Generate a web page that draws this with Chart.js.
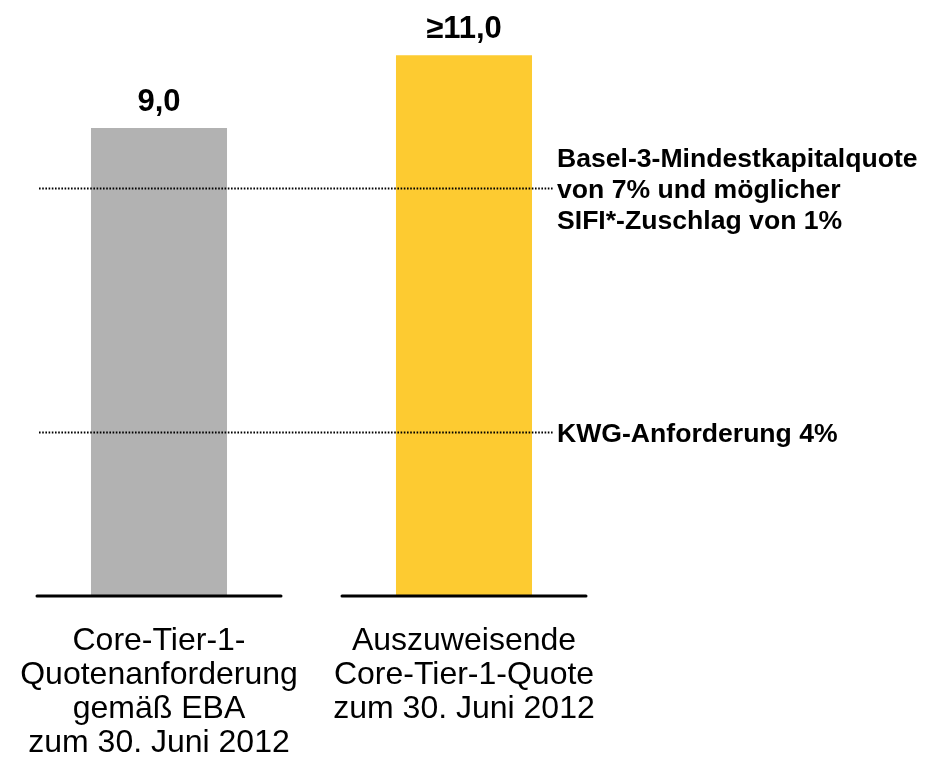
<!DOCTYPE html>
<html>
<head>
<meta charset="utf-8">
<script src="https://cdn.jsdelivr.net/npm/chart.js@4"></script>
<style>
  body { margin: 0; background: #fff; }
  canvas { display: block; }
</style>
</head>
<body>
<canvas id="capitalChart" width="939" height="767"></canvas>
<script>
// Werte (Balkenhöhen in Achseneinheiten)
const categories = [
  ["Core-Tier-1-", "Quotenanforderung", "gemäß EBA", "zum 30. Juni 2012"],
  ["Auszuweisende", "Core-Tier-1-Quote", "zum 30. Juni 2012"]
];
const barHeights = [9.0, 10.4];
const valueLabels = ["9,0", "≥11,0"];
const barColors = ["#b2b2b2", "#fdcb31"];

// gepunktete Referenzlinien
const refLevels = [7.85, 3.15];
const refLabels = [
  ["Basel-3-Mindestkapitalquote", "von 7% und möglicher", "SIFI*-Zuschlag von 1%"],
  ["KWG-Anforderung 4%"]
];

const FONT = "'Liberation Sans', Arial, sans-serif";

// Beschriftungen, Grundlinien und Referenzlinien
const annotations = {
  id: "annotations",
  afterDatasetsDraw(chart) {
    const { ctx, scales: { x, y } } = chart;
    const base = y.getPixelForValue(0);
    ctx.save();

    // Referenzlinien (gepunktet)
    refLevels.forEach((level, i) => {
      const py = Math.round(y.getPixelForValue(level)) + 0.5;
      ctx.strokeStyle = "#000";
      ctx.lineWidth = 2;
      ctx.setLineDash([1.6, 1.6]);
      ctx.beginPath();
      ctx.moveTo(39, py);
      ctx.lineTo(553, py);
      ctx.stroke();
      ctx.setLineDash([]);

      ctx.fillStyle = "#000";
      ctx.font = "bold 26.6px " + FONT;
      ctx.textAlign = "left";
      ctx.textBaseline = "middle";
      const lines = refLabels[i];
      const step = 31;
      const start = py - (lines.length - 1) * step / 2;
      lines.forEach((t, j) => ctx.fillText(t, 557, start + j * step + 2));
    });

    // Grundlinien unter den Balken
    categories.forEach((c, i) => {
      const cx = x.getPixelForValue(i);
      ctx.strokeStyle = "#000";
      ctx.lineWidth = 3;
      ctx.lineCap = "round";
      ctx.beginPath();
      ctx.moveTo(cx - 122, base);
      ctx.lineTo(cx + 122, base);
      ctx.stroke();
    });

    // Werte über den Balken
    ctx.font = "bold 31px " + FONT;
    ctx.textAlign = "center";
    ctx.textBaseline = "alphabetic";
    barHeights.forEach((v, i) => {
      const cx = x.getPixelForValue(i);
      const top = y.getPixelForValue(v);
      ctx.fillText(valueLabels[i], cx, top - 17);
    });

    // Kategorienbeschriftung
    ctx.font = "32px " + FONT;
    categories.forEach((lines, i) => {
      const cx = x.getPixelForValue(i);
      lines.forEach((t, j) => ctx.fillText(t, cx, base + 54 + j * 34));
    });

    ctx.restore();
  }
};

new Chart(document.getElementById("capitalChart").getContext("2d"), {
  type: "bar",
  data: {
    labels: categories.map(c => c.join(" ")),
    datasets: [{
      data: barHeights,
      backgroundColor: barColors,
      borderWidth: 0,
      barPercentage: 1,
      categoryPercentage: 0.446
    }]
  },
  options: {
    responsive: false,
    animation: false,
    layout: { padding: { left: 6.5, right: 322.5, top: 0, bottom: 171 } },
    scales: {
      x: { display: false },
      y: { display: false, min: 0, max: 11.4615 }
    },
    plugins: {
      legend: { display: false },
      tooltip: { enabled: false }
    }
  },
  plugins: [annotations]
});
</script>
</body>
</html>
